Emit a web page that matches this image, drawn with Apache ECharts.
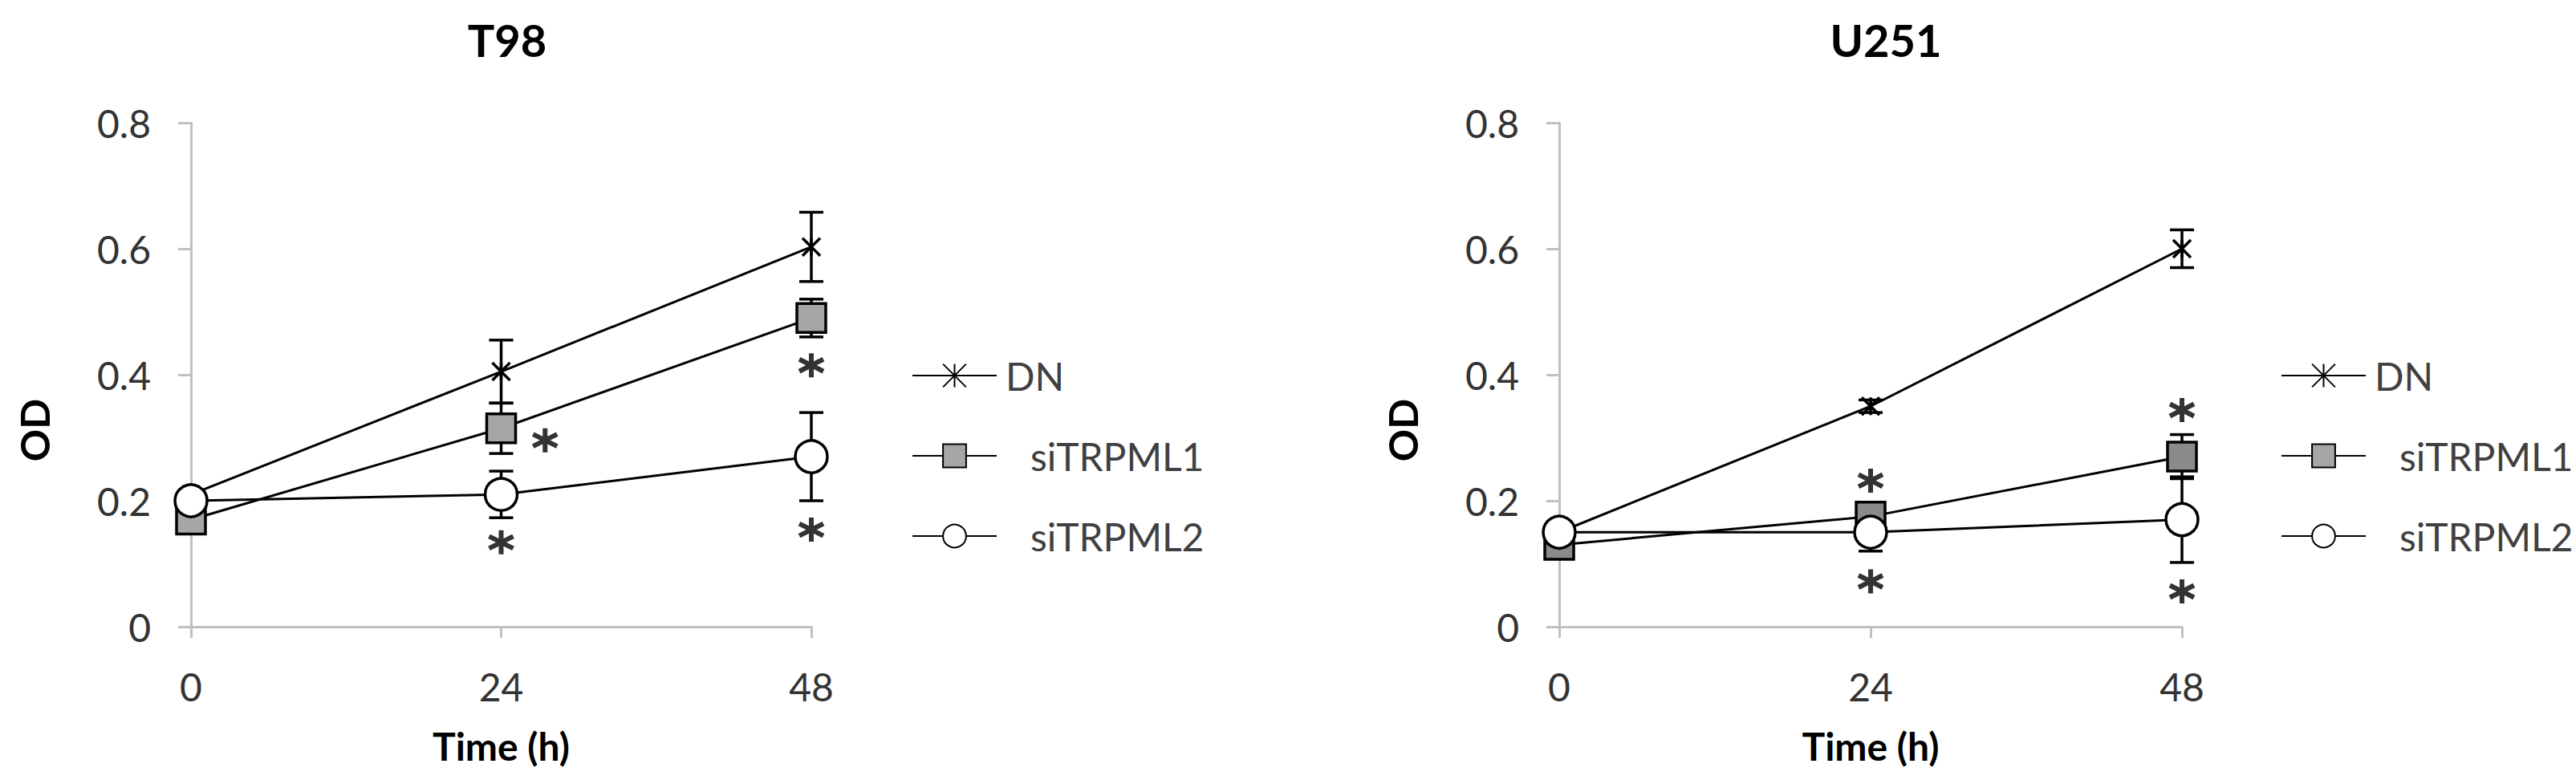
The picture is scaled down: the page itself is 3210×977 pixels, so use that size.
<!DOCTYPE html>
<html>
<head>
<meta charset="utf-8">
<script src="https://cdn.jsdelivr.net/npm/echarts@6/dist/echarts.min.js"></script>
<style>
html,body{margin:0;padding:0;background:#fff;}
#chart{width:3210px;height:977px;}
</style>
</head>
<body>
<div id="chart"></div>
<script>
// ---- data ----
const times = [0, 24, 48];
const seriesNames = ['DN', 'siTRPML1', 'siTRPML2'];
const yTicks = [0, 0.2, 0.4, 0.6, 0.8];

const t98_DN = [0.21, 0.405, 0.603];
const t98_DN_err = [0, 0.05, 0.055];
const t98_L1 = [0.17, 0.315, 0.49];
const t98_L1_err = [0, 0.04, 0.03];
const t98_L2 = [0.2, 0.21, 0.27];
const t98_L2_err = [0, 0.037, 0.07];
const t98_star_x = [27.4, 24, 48, 48];
const t98_star_y = [0.296, 0.134, 0.415, 0.154];

const u251_DN = [0.15, 0.35, 0.60];
const u251_DN_err = [0, 0.01, 0.03];
const u251_L1 = [0.13, 0.175, 0.27];
const u251_L1_err = [0, 0.012, 0.035];
const u251_L2 = [0.15, 0.15, 0.17];
const u251_L2_err = [0, 0.03, 0.068];
const u251_star_x = [24, 24, 48, 48];
const u251_star_y = [0.232, 0.072, 0.344, 0.056];

// ---- styles ----
const FONT = 'Lato';
const starSymbol = 'path://M5,0 L5,10 M0.67,2.5 L9.33,7.5 M0.67,7.5 L9.33,2.5';
const xSymbol = 'path://M0,0 L10,10 M10,0 L0,10 M5,0 L5,10';

function symbolStyle(name, squareFill) {
  if (name === 'DN') return { symbol: xSymbol, symbolSize: 22, itemStyle: { color: '#000', borderColor: '#000', borderWidth: 3.5 } };
  if (name === 'siTRPML1') return { symbol: 'rect', symbolSize: 36, itemStyle: { color: squareFill, borderColor: '#000', borderWidth: 3.5 } };
  return { symbol: 'circle', symbolSize: 40, itemStyle: { color: '#fff', borderColor: '#000', borderWidth: 3.5 } };
}

function pairs(xs, ys) { return xs.map((x, i) => [x, ys[i]]); }
function triples(xs, ys, es) { return xs.map((x, i) => [x, ys[i], es[i]]); }

function errRender(params, api) {
  const x = api.value(0), m = api.value(1), e = api.value(2);
  if (!e) return null;
  const top = api.coord([x, m + e]);
  const bot = api.coord([x, m - e]);
  const hw = 15;
  const st = { stroke: '#000', lineWidth: 3.5 };
  return {
    type: 'group',
    children: [
      { type: 'line', shape: { x1: top[0], y1: top[1], x2: bot[0], y2: bot[1] }, style: st },
      { type: 'line', shape: { x1: top[0] - hw, y1: top[1], x2: top[0] + hw, y2: top[1] }, style: st },
      { type: 'line', shape: { x1: bot[0] - hw, y1: bot[1], x2: bot[0] + hw, y2: bot[1] }, style: st }
    ]
  };
}

const panels = [
  { title: 'T98', means: [t98_DN, t98_L1, t98_L2], errs: [t98_DN_err, t98_L1_err, t98_L2_err], sx: t98_star_x, sy: t98_star_y,
    grid: { left: 238, top: 153, width: 773, height: 628 }, titleX: 627, odX: 43, legendX: 1131, squareFill: '#a6a6a6' },
  { title: 'U251', means: [u251_DN, u251_L1, u251_L2], errs: [u251_DN_err, u251_L1_err, u251_L2_err], sx: u251_star_x, sy: u251_star_y,
    grid: { left: 1943, top: 153, width: 776, height: 628 }, titleX: 2345, odX: 1748, legendX: 2837, squareFill: '#8a8a8a' }
];

const option = {
  animation: false,
  backgroundColor: '#fff',
  title: [], grid: [], xAxis: [], yAxis: [], legend: [], series: [], graphic: []
};

panels.forEach((p, k) => {
  option.title.push({
    text: p.title, left: p.titleX, top: 16, textAlign: 'center',
    textStyle: { fontFamily: FONT, fontWeight: 'bold', fontSize: 56, color: '#000' }
  });
  option.grid.push(Object.assign({ containLabel: false }, p.grid));
  option.xAxis.push({
    gridIndex: k, type: 'value', min: 0, max: 48, interval: 24,
    name: 'Time (h)', nameLocation: 'middle', nameGap: 124,
    nameTextStyle: { fontFamily: FONT, fontWeight: 'bold', fontSize: 48, color: '#000' },
    axisLine: { show: true, lineStyle: { color: '#c0c0c0', width: 3 } },
    axisTick: { show: true, length: 14, lineStyle: { color: '#c0c0c0', width: 3 } },
    axisLabel: { margin: 50, fontFamily: FONT, fontSize: 48, color: '#333' },
    splitLine: { show: false }
  });
  option.yAxis.push({
    gridIndex: k, type: 'value', min: 0, max: 0.8, interval: 0.2,
    axisLine: { show: true, lineStyle: { color: '#c0c0c0', width: 3 } },
    axisTick: { show: true, length: 16, lineStyle: { color: '#c0c0c0', width: 3 } },
    axisLabel: { margin: 50, fontFamily: FONT, fontSize: 48, color: '#333',
      formatter: v => { const t = yTicks.find(q => Math.abs(q - v) < 1e-9); return String(t !== undefined ? t : v); } },
    splitLine: { show: false }
  });
  option.graphic.push({
    type: 'text', x: p.odX, y: 536, rotation: Math.PI / 2,
    style: { text: 'OD', fontFamily: FONT, fontWeight: 'bold', fontSize: 50, fill: '#000', align: 'center', verticalAlign: 'middle' }
  });
  option.legend.push({
    orient: 'vertical', left: p.legendX, top: 439,
    itemWidth: 105, itemHeight: 36, itemGap: 52,
    data: seriesNames,
    selectedMode: false,
    formatter: n => (n === 'DN' ? '{d|}' : '{s|}') + n,
    textStyle: { fontFamily: FONT, fontSize: 48, color: '#404040', lineHeight: 48,
      rich: { d: { width: 6 }, s: { width: 37 } } }
  });
  // error bars
  seriesNames.forEach((n, i) => {
    option.series.push({
      type: 'custom', name: 'err_' + n + '_' + k, xAxisIndex: k, yAxisIndex: k, z: 1,
      renderItem: errRender, encode: { x: 0, y: 1 },
      data: triples(times, p.means[i], p.errs[i])
    });
  });
  // lines
  seriesNames.forEach((n, i) => {
    const s = symbolStyle(n, p.squareFill);
    option.series.push({
      type: 'line', name: n, xAxisIndex: k, yAxisIndex: k, z: 3 + i,
      data: pairs(times, p.means[i]),
      symbol: s.symbol, symbolSize: s.symbolSize, showSymbol: true, itemStyle: s.itemStyle,
      lineStyle: { color: '#000', width: 3 }
    });
  });
  // significance stars
  option.series.push({
    type: 'scatter', name: 'stars_' + k, xAxisIndex: k, yAxisIndex: k, z: 6,
    symbol: starSymbol, symbolSize: 30, clip: false,
    itemStyle: { color: '#000', borderColor: '#000', borderWidth: 6 },
    data: pairs(p.sx, p.sy)
  });
});

const chart = echarts.init(document.getElementById('chart'), null, { renderer: 'svg' });
chart.setOption(option);
</script>
</body>
</html>
